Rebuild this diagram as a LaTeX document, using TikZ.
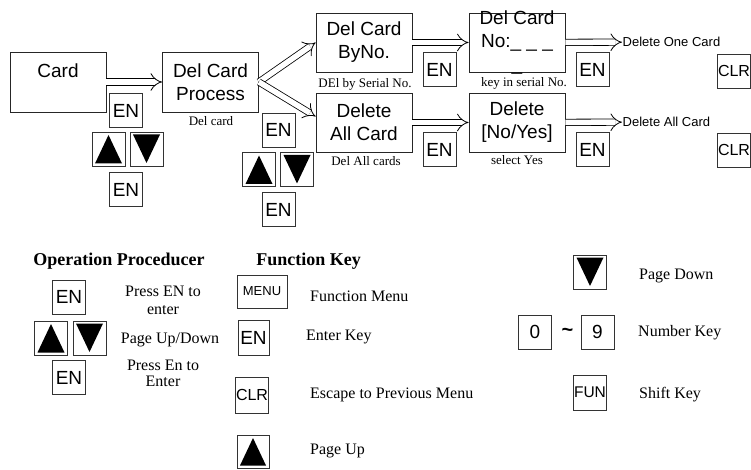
\documentclass[tikz,border=0pt]{standalone}
\usepackage{fontspec}
\setmainfont{Liberation Serif}
\newfontfamily\arialfont{Liberation Sans}
\usepackage{tikz}
\usetikzlibrary{positioning, arrows.meta}

\begin{document}
\begin{tikzpicture}[
    x=1pt, y=-1pt,
    stage/.style={rectangle, draw=black!85, line width=0.8pt, minimum width=96pt, minimum height=60pt, inner sep=0pt, align=center, font=\arialfont\fontsize{19}{23}\selectfont},
    keybox/.style={rectangle, draw=black!80, line width=0.8pt, minimum width=33pt, minimum height=34pt, inner sep=0pt, font=\arialfont\fontsize{19}{23}\selectfont},
    upkey/.style={keybox, path picture={\fill ([shift={(3pt,2.5pt)}]path picture bounding box.south west) -- ([shift={(-3pt,2.5pt)}]path picture bounding box.south east) -- ([shift={(0pt,-3pt)}]path picture bounding box.north) -- cycle;}},
    downkey/.style={keybox, path picture={\fill ([shift={(3pt,-2.5pt)}]path picture bounding box.north west) -- ([shift={(-3pt,-2.5pt)}]path picture bounding box.north east) -- ([shift={(0pt,3pt)}]path picture bounding box.south) -- cycle;}},
    note/.style={anchor=base, inner sep=0pt, font=\fontsize{13}{15}\selectfont},
    result/.style={anchor=west, inner sep=0.5pt, font=\arialfont\fontsize{13}{15}\selectfont},
    heading/.style={anchor=base, inner sep=0pt, font=\bfseries\fontsize{18}{20}\selectfont},
    explain/.style={anchor=base west, inner sep=0pt, font=\fontsize{16}{17}\selectfont},
    arrow/.style={double, double distance=5.5pt, line width=0.8pt, -{Implies[length=7pt, width=15pt]}}
]
\useasboundingbox (0,0) rectangle (751,470);

% Flow boxes
\node[stage] (card) at (58,82) {Card\\\mbox{}};
\node[stage] (proc) at (210.5,82) {Del Card\\Process};
\node[stage, minimum height=59pt] (byno) at (364,42.5) {Del Card\\ByNo.};
\node[stage, minimum height=59pt] (delall) at (364,122.5) {Delete\\All Card};
\node[stage, minimum height=59pt, inner ysep=-4pt] (cardno) at (517,42.5) {Del Card\\No:\_ \_ \_\\\_};
\node[stage, minimum height=59pt] (yesno) at (517,122.5) {Delete\\{[No/Yes]}};

% Captions
\node[note] (procnote) at (211,125.5) {Del card};
\node[note] (bynonote) at (365,88) {DEl by Serial No.};
\node[note] (delallnote) at (366,166) {Del All cards};
\node[note] (cardnonote) at (524,87) {key in serial No.};
\node[note] (yesnonote) at (517,165) {select Yes};

% Results
\node[result] (onecard) at (622,42) {Delete One Card};
\node[result] (allcard) at (622,122) {Delete All Card};

% Keys along the flow
\node[keybox] (en1) at (126,110.5) {EN};
\node[upkey] (up1) at (108.5,149) {};
\node[downkey] (dn1) at (146.5,149) {};
\node[keybox] (en2) at (126,189.5) {EN};

\node[keybox] (en3) at (278.5,130) {EN};
\node[upkey] (up2) at (259,169.5) {};
\node[downkey] (dn2) at (297,169.5) {};
\node[keybox] (en4) at (278.5,209.5) {EN};

\node[keybox] (en5) at (439.5,69.5) {EN};
\node[keybox] (en6) at (439.5,149.5) {EN};
\node[keybox] (en7) at (592.5,69.5) {EN};
\node[keybox] (en8) at (592.5,149.5) {EN};
\node[keybox, font=\arialfont\fontsize{16}{18}\selectfont] (clr1) at (734,71) {CLR};
\node[keybox, font=\arialfont\fontsize{16}{18}\selectfont] (clr2) at (734,150) {CLR};

% Arrows
\draw[arrow] (card) -- (proc);
\draw[arrow] (proc.east) -- (byno.west);
\draw[arrow] (proc.east) -- ([yshift=6pt]delall.west);
\draw[arrow] (byno) -- (cardno);
\draw[arrow] (delall) -- (yesno);
\draw[arrow] (cardno) -- (onecard);
\draw[arrow] (yesno) -- (allcard);

% Operation procedure
\node[heading] (ophead) at (119,265) {Operation Proceducer};
\node[keybox] (en9) at (69,297) {EN};
\node[upkey] (up3) at (51,338) {};
\node[downkey] (dn3) at (89.5,338) {};
\node[keybox] (en10) at (69,377.5) {EN};
\node[align=center, inner sep=0pt, font=\fontsize{16}{18}\selectfont] (optext1) at (163,300.7) {Press EN to\\enter};
\node[anchor=base, inner sep=0pt, font=\fontsize{16}{17}\selectfont] (optext2) at (170,343) {Page Up/Down};
\node[align=center, inner sep=0pt, font=\fontsize{16}{16}\selectfont] (optext3) at (163,373.7) {Press En to\\Enter};

% Function keys
\node[heading] (fnhead) at (308.5,265) {Function Key};
\node[keybox, minimum width=50pt, minimum height=33pt, font=\arialfont\fontsize{13}{15}\selectfont] (menu) at (262,291.5) {MENU};
\node[explain] (menutext) at (310,301) {Function Menu};
\node[keybox, minimum width=31pt, minimum height=35pt] (en11) at (253.5,337.5) {EN};
\node[explain] (entext) at (306,340.5) {Enter Key};
\node[keybox, minimum height=36pt, font=\arialfont\fontsize{16}{18}\selectfont] (clr3) at (252,395) {CLR};
\node[explain] (clrtext) at (310,398.5) {Escape to Previous Menu};
\node[upkey, minimum width=32pt, minimum height=33pt] (up4) at (253,451.5) {};
\node[explain] (uptext) at (310,454) {Page Up};

\node[downkey] (dn4) at (590,272) {};
\node[explain] (dntext) at (639,279) {Page Down};
\node[keybox] (zero) at (535,332) {0};
\node[inner sep=0pt, font=\arialfont\bfseries\fontsize{20}{23}\selectfont] (tilde) at (567.5,332) {\textasciitilde};
\node[keybox] (nine) at (597.5,332) {9};
\node[explain] (numtext) at (638,336.6) {Number Key};
\node[keybox, minimum height=35pt, font=\arialfont\fontsize{15.5}{18}\selectfont] (fun) at (590,392.5) {FUN};
\node[explain] (funtext) at (639,398.7) {Shift Key};

\end{tikzpicture}
\end{document}
